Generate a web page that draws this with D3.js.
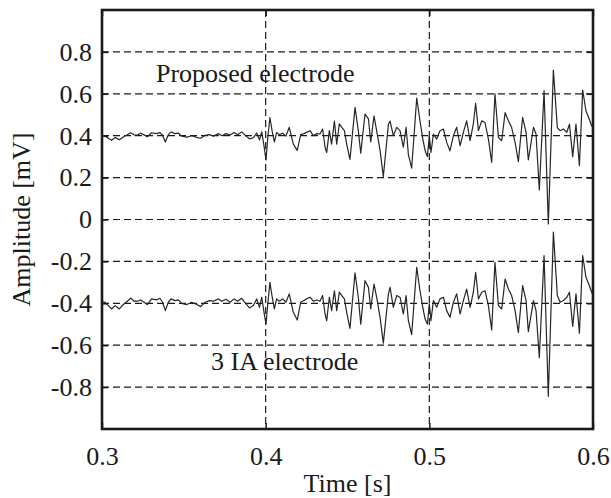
<!DOCTYPE html>
<html>
<head>
<meta charset="utf-8">
<script src="https://cdn.jsdelivr.net/npm/d3@7"></script>
<style>
    body { margin: 0; background: #fff; }
    svg text { font-family: 'Liberation Serif', 'Times New Roman', serif; }
</style>
</head>
<body>
<svg id="chart" width="611" height="498"></svg>
<script>
// sample times in ms
const timeMs = [
    300, 301.8, 303.9, 305.9, 308, 310.6, 313, 315.5, 317.5, 319.6,
    321.6, 323.6, 325.7, 327.7, 330.3, 333.4, 335.4, 337, 338.7, 340.5,
    342.2, 344.6, 346.7, 348.7, 351.8, 354.8, 357.9, 360.3, 363, 365.6,
    368.1, 371.1, 373.2, 375.8, 378.3, 380.7, 382.8, 385.4, 388, 390.1,
    392.5, 394.5, 396.2, 397.6, 399, 400.2, 401.4, 402.6, 404, 405.3,
    406.7, 408.3, 410.4, 412.4, 414.4, 416.9, 419.3, 421.4, 423.4, 425,
    427.1, 429.1, 431.2, 433.2, 434.8, 436.3, 437.3, 438.9, 440.3, 442,
    443.4, 445, 446.5, 448.1, 449.5, 451.5, 454.6, 456.6, 458.1, 460.7,
    462.8, 464.2, 466.2, 467.8, 469.9, 471.9, 475, 476, 478, 480.1,
    482.1, 484.1, 485.8, 487.2, 489.2, 492.3, 494.3, 496, 497.4, 498.8,
    500, 501, 502.5, 504.5, 506.5, 508.6, 510.6, 512.6, 514.7, 516.7,
    518.8, 520.8, 522.8, 524.9, 526.9, 528.3, 530, 532, 534, 536.1,
    538.1, 540.1, 542.2, 544.2, 546.3, 548.3, 550.3, 552.4, 554.4, 557,
    559.1, 560.5, 563.6, 565.2, 567.2, 570.1, 572.7, 575.8, 578.2, 579.9,
    581.9, 584, 585.6, 587.6, 589.6, 591.7, 593.7, 595.7, 597.4, 599.2,
    600
];

// Proposed electrode trace (mV)
const proposed = [
    0.400, 0.398, 0.388, 0.378, 0.392, 0.381, 0.394, 0.405, 0.414, 0.404,
    0.403, 0.412, 0.404, 0.395, 0.414, 0.410, 0.415, 0.402, 0.370, 0.405,
    0.418, 0.410, 0.412, 0.398, 0.393, 0.400, 0.392, 0.388, 0.402, 0.405,
    0.398, 0.410, 0.400, 0.410, 0.403, 0.415, 0.405, 0.418, 0.398, 0.385,
    0.390, 0.413, 0.380, 0.418, 0.350, 0.284, 0.400, 0.487, 0.420, 0.370,
    0.415, 0.405, 0.412, 0.398, 0.440, 0.360, 0.330, 0.405, 0.410, 0.416,
    0.424, 0.400, 0.410, 0.408, 0.432, 0.345, 0.320, 0.424, 0.360, 0.470,
    0.360, 0.456, 0.440, 0.424, 0.360, 0.287, 0.535, 0.424, 0.316, 0.503,
    0.480, 0.370, 0.495, 0.424, 0.330, 0.205, 0.455, 0.470, 0.400, 0.440,
    0.424, 0.345, 0.440, 0.310, 0.245, 0.580, 0.470, 0.384, 0.330, 0.300,
    0.400, 0.320, 0.408, 0.384, 0.424, 0.432, 0.368, 0.328, 0.400, 0.440,
    0.352, 0.416, 0.471, 0.376, 0.456, 0.555, 0.424, 0.471, 0.463, 0.384,
    0.273, 0.600, 0.392, 0.376, 0.510, 0.471, 0.439, 0.368, 0.276, 0.487,
    0.416, 0.284, 0.440, 0.408, 0.141, 0.615, -0.021, 0.713, 0.439, 0.424,
    0.432, 0.416, 0.455, 0.300, 0.455, 0.257, 0.618, 0.518, 0.486, 0.446,
    0.440
];

// 3 IA electrode trace (mV)
const threeIA = [
    -0.392, -0.395, -0.411, -0.427, -0.411, -0.427, -0.406, -0.390, -0.375, -0.390,
    -0.390, -0.384, -0.395, -0.406, -0.379, -0.384, -0.376, -0.395, -0.435, -0.395,
    -0.379, -0.387, -0.384, -0.400, -0.406, -0.395, -0.406, -0.416, -0.395, -0.387,
    -0.390, -0.379, -0.390, -0.381, -0.395, -0.379, -0.390, -0.376, -0.403, -0.422,
    -0.411, -0.379, -0.419, -0.371, -0.443, -0.499, -0.395, -0.300, -0.371, -0.427,
    -0.379, -0.390, -0.379, -0.395, -0.355, -0.443, -0.480, -0.395, -0.387, -0.379,
    -0.371, -0.390, -0.384, -0.390, -0.363, -0.451, -0.483, -0.371, -0.435, -0.340,
    -0.435, -0.347, -0.363, -0.379, -0.443, -0.520, -0.255, -0.371, -0.500, -0.292,
    -0.324, -0.427, -0.308, -0.371, -0.467, -0.590, -0.355, -0.324, -0.419, -0.363,
    -0.371, -0.451, -0.363, -0.483, -0.550, -0.228, -0.340, -0.419, -0.475, -0.499,
    -0.403, -0.483, -0.387, -0.419, -0.379, -0.371, -0.435, -0.467, -0.395, -0.355,
    -0.451, -0.387, -0.332, -0.419, -0.347, -0.252, -0.379, -0.347, -0.340, -0.411,
    -0.527, -0.204, -0.411, -0.427, -0.284, -0.332, -0.363, -0.435, -0.540, -0.316,
    -0.387, -0.535, -0.387, -0.435, -0.660, -0.172, -0.844, -0.060, -0.363, -0.395,
    -0.387, -0.371, -0.347, -0.510, -0.355, -0.543, -0.172, -0.276, -0.308, -0.347,
    -0.360
];

const xTicks = [0.3, 0.4, 0.5, 0.6];
const yTicks = [-0.8, -0.6, -0.4, -0.2, 0, 0.2, 0.4, 0.6, 0.8];
const labels = [
    {text: "Proposed electrode", t: 0.333, v: 0.655},
    {text: "3 IA electrode", t: 0.3666, v: -0.716}
];

const FONT = "'Liberation Serif', 'Times New Roman', serif";
const INK = "#1a1a1a";

const svg = d3.select("#chart");
const W = +svg.attr("width"), H = +svg.attr("height");
const margin = {top: 10, right: 18, bottom: 69, left: 102};
const iw = W - margin.left - margin.right;
const ih = H - margin.top - margin.bottom;

const x = d3.scaleLinear().domain([0.3, 0.6]).range([0, iw]);
const y = d3.scaleLinear().domain([-1, 1]).range([ih, 0]);

const fmt = d => d === 0 ? "0" : d.toFixed(1);

const g = svg.append("g").attr("transform", `translate(${margin.left},${margin.top})`);

// dashed grid
g.append("g").selectAll("line")
    .data(yTicks).enter().append("line")
    .attr("x1", 0).attr("x2", iw)
    .attr("y1", d => y(d)).attr("y2", d => y(d))
    .style("stroke", INK).style("stroke-width", 1.2)
    .style("stroke-dasharray", "7,4");

g.append("g").selectAll("line")
    .data(xTicks.slice(1, -1)).enter().append("line")
    .attr("x1", d => x(d)).attr("x2", d => x(d))
    .attr("y1", 0).attr("y2", ih)
    .style("stroke", INK).style("stroke-width", 1.2)
    .style("stroke-dasharray", "7,4");

// traces
const line = d3.line()
    .x((d, i) => x(timeMs[i] / 1000))
    .y(d => y(d));

[proposed, threeIA].forEach(series => {
    g.append("path")
        .datum(series)
        .attr("d", line)
        .style("fill", "none")
        .style("stroke", "#262626")
        .style("stroke-width", 1.2)
        .style("stroke-linejoin", "round");
});

// axes, ticks pointing inward
const axisStyle = sel => {
    sel.attr("font-family", FONT).attr("font-size", 26);
    sel.select(".domain").remove();
    sel.selectAll(".tick line").style("stroke", INK).style("stroke-width", 1.5);
    sel.selectAll(".tick text").style("fill", INK);
};

g.append("g")
    .attr("transform", `translate(0,${ih})`)
    .call(d3.axisBottom(x).tickValues(xTicks).tickFormat(d => d.toFixed(1))
        .tickSizeInner(-6).tickSizeOuter(0).tickPadding(18))
    .call(axisStyle);

g.append("g")
    .call(d3.axisTop(x).tickValues(xTicks).tickFormat("").tickSizeInner(-6).tickSizeOuter(0))
    .call(axisStyle);

g.append("g")
    .call(d3.axisLeft(y).tickValues(yTicks).tickFormat(fmt)
        .tickSizeInner(-6).tickSizeOuter(0).tickPadding(10))
    .call(axisStyle);

g.append("g")
    .attr("transform", `translate(${iw},0)`)
    .call(d3.axisRight(y).tickValues(yTicks).tickFormat("").tickSizeInner(-6).tickSizeOuter(0))
    .call(axisStyle);

// frame
g.append("rect")
    .attr("width", iw).attr("height", ih)
    .style("fill", "none")
    .style("stroke", INK)
    .style("stroke-width", 2.6);

// annotations
g.selectAll("text.note")
    .data(labels).enter().append("text")
    .attr("class", "note")
    .attr("x", d => x(d.t))
    .attr("y", d => y(d.v))
    .attr("font-family", FONT)
    .attr("font-size", 26)
    .style("fill", INK)
    .text(d => d.text);

svg.append("text")
    .attr("x", margin.left + iw / 2)
    .attr("y", 492)
    .attr("text-anchor", "middle")
    .attr("font-family", FONT)
    .attr("font-size", 26)
    .style("fill", INK)
    .text("Time [s]");

svg.append("text")
    .attr("transform", `translate(30,${margin.top + ih / 2}) rotate(-90)`)
    .attr("text-anchor", "middle")
    .attr("font-family", FONT)
    .attr("font-size", 26)
    .style("fill", INK)
    .text("Amplitude [mV]");
</script>
</body>
</html>
